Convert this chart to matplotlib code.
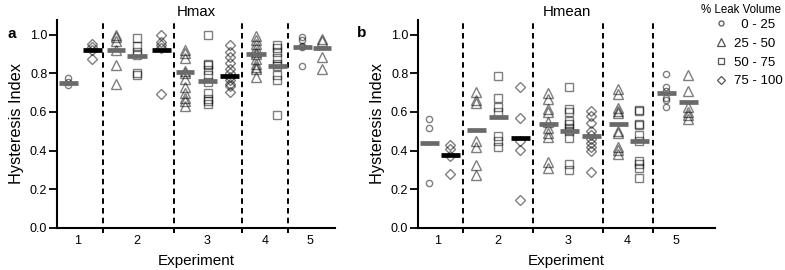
import matplotlib as mpl
mpl.use('agg')
import matplotlib.pyplot as plt
from matplotlib.lines import Line2D

plt.rcParams['font.family'] = ['Liberation Sans', 'DejaVu Sans']
plt.rcParams['lines.scale_dashes'] = False

# leak volume classes: 0 = 0-25, 1 = 25-50, 2 = 50-75, 3 = 75-100
leak_labels = ['  0 - 25', '25 - 50', '50 - 75', '75 - 100']
leak_markers = ['o', '^', 's', 'D']
leak_msize = [4.5, 6.5, 5.2, 5.0]

# ---- Hmax (panel a) ----
hmax_exp = [1, 1, 2, 2, 2, 3, 3, 3, 4, 4, 5, 5]
hmax_leak = [0, 3, 1, 2, 3, 1, 2, 3, 1, 2, 0, 1]
hmax_vals = [
    [0.775, 0.755, 0.74],
    [0.95, 0.935, 0.92, 0.875],
    [1.0, 0.985, 0.965, 0.92, 0.845, 0.745],
    [0.98, 0.94, 0.91, 0.895, 0.80, 0.79],
    [1.0, 0.96, 0.945, 0.93, 0.69],
    [0.92, 0.905, 0.88, 0.81, 0.80, 0.77, 0.73, 0.70, 0.67, 0.655, 0.63],
    [1.0, 0.85, 0.84, 0.815, 0.79, 0.755, 0.70, 0.665, 0.655, 0.64],
    [0.945, 0.91, 0.885, 0.855, 0.82, 0.80, 0.78, 0.765, 0.745, 0.735, 0.705],
    [0.99, 0.97, 0.95, 0.93, 0.91, 0.90, 0.875, 0.85, 0.83, 0.82, 0.78],
    [0.945, 0.93, 0.91, 0.88, 0.85, 0.835, 0.79, 0.765, 0.585],
    [0.985, 0.97, 0.94, 0.935, 0.835],
    [0.975, 0.965, 0.885, 0.82],
]
hmax_bar = [0.75, 0.92, 0.92, 0.89, 0.92, 0.805, 0.76, 0.788, 0.897, 0.836, 0.935, 0.93]

# ---- Hmean (panel b) ----
hmean_exp = [1, 1, 2, 2, 2, 3, 3, 3, 4, 4, 5, 5]
hmean_leak = [0, 3, 1, 2, 3, 1, 2, 3, 1, 2, 0, 1]
hmean_vals = [
    [0.565, 0.515, 0.235],
    [0.43, 0.41, 0.37, 0.28],
    [0.705, 0.66, 0.645, 0.45, 0.42, 0.325, 0.275],
    [0.785, 0.67, 0.625, 0.60, 0.475, 0.45, 0.42],
    [0.73, 0.57, 0.45, 0.405, 0.145],
    [0.70, 0.665, 0.615, 0.60, 0.55, 0.515, 0.49, 0.47, 0.34, 0.31],
    [0.73, 0.615, 0.60, 0.555, 0.535, 0.515, 0.50, 0.465, 0.33, 0.30],
    [0.605, 0.58, 0.545, 0.50, 0.48, 0.46, 0.44, 0.42, 0.40, 0.29],
    [0.72, 0.69, 0.62, 0.605, 0.595, 0.50, 0.49, 0.42, 0.405, 0.38],
    [0.61, 0.605, 0.54, 0.53, 0.48, 0.45, 0.345, 0.33, 0.31, 0.26],
    [0.795, 0.73, 0.71, 0.67, 0.66, 0.625],
    [0.79, 0.71, 0.625, 0.60, 0.585, 0.565],
]
hmean_bar = [0.44, 0.375, 0.505, 0.575, 0.465, 0.54, 0.50, 0.478, 0.535, 0.45, 0.70, 0.652]

# layout (pixel offsets inside each axes)
pos_a = [11, 35, 59, 80, 104, 128, 151, 173, 199, 220, 245, 265]
pos_b = [11, 32, 58, 80, 102, 130, 151, 173, 200, 221, 248, 270]
sep_a = [46, 117, 185, 231]
sep_b = [45, 115, 185, 235]
tick_a = [21, 80, 150, 208, 253]
tick_b = [20, 80, 150, 209, 258]
dark_a = [1, 4, 7]
dark_b = [1, 4]

W, H = 785, 270
fig = plt.figure(figsize=(W / 100, H / 100), dpi=100)


def px_axes(l, t, r, b):
    return fig.add_axes([l / W, 1 - b / H, (r - l) / W, (b - t) / H])


def panel(ax, width, pos, leak, vals, bars, dark, seps, ticks, title):
    for i in range(len(vals)):
        k = leak[i]
        ax.plot([pos[i]] * len(vals[i]), vals[i], linestyle='none',
                marker=leak_markers[k], ms=leak_msize[k], mfc='none',
                mec='black', mew=1.0, alpha=0.5, zorder=2)
    for i in range(len(bars)):
        c = 'black' if i in dark else '#6a6a6a'
        ax.hlines(bars[i], pos[i] - 9.5, pos[i] + 9.5, colors=c, lw=3.4, zorder=3)
    ax.vlines(seps, -0.025, 1.07, colors='black', lw=1.4,
              linestyles=[(0, (4.0, 3.0))], clip_on=False, zorder=1)
    ax.set_xlim(0, width)
    ax.set_ylim(0, 1.075)
    ax.set_yticks([0, 0.2, 0.4, 0.6, 0.8, 1.0])
    ax.set_yticklabels(['0.0', '0.2', '0.4', '0.6', '0.8', '1.0'])
    ax.set_xticks(ticks)
    ax.set_xticklabels(['1', '2', '3', '4', '5'])
    ax.tick_params(axis='y', length=5.5, width=1.3, labelsize=9, pad=1.5)
    ax.tick_params(axis='x', length=0, labelsize=9, pad=5)
    for s in ['top', 'right']:
        ax.spines[s].set_visible(False)
    for s in ['left', 'bottom']:
        ax.spines[s].set_linewidth(1.5)
    ax.set_xlabel('Experiment', fontsize=11, labelpad=5)
    ax.set_ylabel('Hysteresis Index', fontsize=11.8, labelpad=4)
    ax.set_title(title, fontsize=10.8, pad=3)


ax_a = px_axes(57, 20, 335, 228)
ax_b = px_axes(418, 20, 715, 228)
panel(ax_a, 278, pos_a, hmax_leak, hmax_vals, hmax_bar, dark_a, sep_a, tick_a, 'Hmax')
panel(ax_b, 297, pos_b, hmean_leak, hmean_vals, hmean_bar, dark_b, sep_b, tick_b, 'Hmean')

fig.text(12 / W, 1 - 34 / H, 'a', fontsize=11, fontweight='bold', ha='center', va='center')
fig.text(362 / W, 1 - 33 / H, 'b', fontsize=11, fontweight='bold', ha='center', va='center')

# legend
fig.text(741 / W, 1 - 10 / H, '% Leak Volume', fontsize=8.3, ha='center', va='center')
handles = [Line2D([], [], linestyle='none', marker=leak_markers[k],
                  ms=leak_msize[k] * 0.8, mfc='none', mec='#555555', mew=0.9)
           for k in range(4)]
leg = fig.legend(handles, leak_labels, loc='upper left',
                 bbox_to_anchor=(712 / W, 1 - 16 / H), frameon=False,
                 fontsize=9.5, handlelength=1.0, handletextpad=0.45,
                 labelspacing=0.5, borderaxespad=0, borderpad=0.2)

fig.savefig('out.png', dpi=100)
